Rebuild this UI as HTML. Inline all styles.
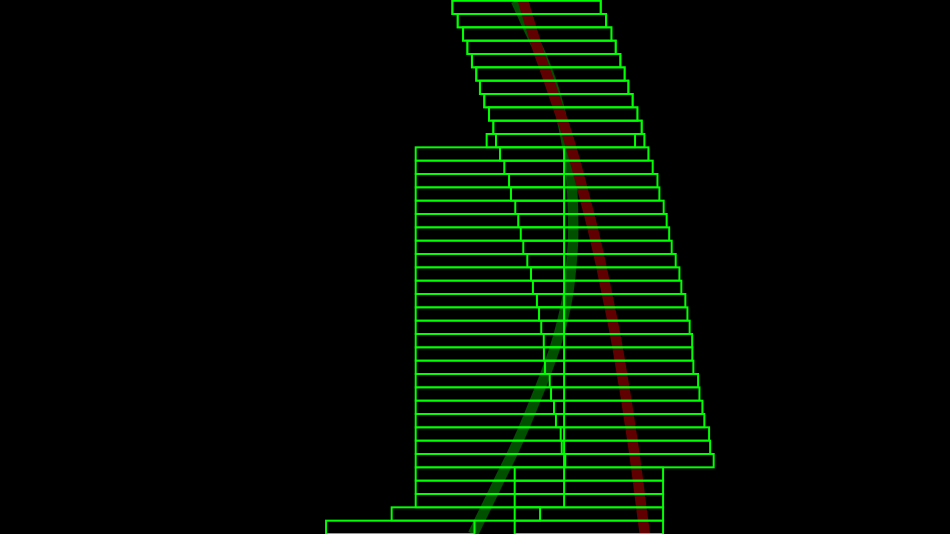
<!DOCTYPE html>
<html lang="en">
<head>
<meta charset="utf-8">
<title>Moving bars chart</title>
<style>
  html, body { margin: 0; padding: 0; background: #000; }
  body { width: 950px; height: 534px; overflow: hidden; }
  svg { display: block; }
  .bar { fill: none; stroke: #00ff00; stroke-width: 2; }
  .curve { fill: none; stroke-width: 10.5; }
</style>
</head>
<body>
<svg id="chart" width="950" height="534" viewBox="0 0 950 534" xmlns="http://www.w3.org/2000/svg"></svg>
<script>
const barLength = 100;
const barAStart = [
  24.7, 28.3, 31.9, 34.8, 37.9, 40.8, 43.3, 46.2, 49.4, 52.3,
  47.8, 0, 0, 0, 0, 0, 0, 0, 0, 0,
  0, 0, 0, 0, 0, 0, 0, 0, 0, 0,
  0, 0, 0, 0, 0, 0, 0, 0, -16.2, -60.4
];
const barBStart = [
  24.7, 28.3, 31.9, 34.8, 37.9, 40.8, 43.3, 46.2, 49.4, 52.3,
  54.1, 56.8, 59.7, 62.9, 64.2, 67.1, 69.1, 70.8, 72.5, 75.2,
  77.7, 79.0, 81.7, 83.1, 84.6, 86.3, 86.4, 87.1, 90.3, 91.2,
  93.2, 94.5, 97.7, 98.4, 100.8, 66.7, 66.7, 66.7, 66.7, 66.7
];
const curveRows = [0, 2, 4, 6, 8, 10, 12, 14, 16, 18, 20, 22, 24, 26, 28, 30, 32, 34, 36, 38, 40];
const greenCurve = [
  67.6, 75.7, 84.1, 91.2, 96.6, 100.6, 103.6, 105.3, 106, 106, 104.7,
  102.6, 98.9, 93.9, 87.5, 80.4, 73, 64.9, 56.1, 47.4, 38.6
];
const redCurve = [
  72.3, 77.7, 83.4, 89.8, 95.9, 102, 107.3, 112.1, 116.8, 121.2, 125.2,
  128.9, 132.6, 136, 139, 142, 144.7, 147.4, 149.8, 152, 154.4
];

const NS = 'http://www.w3.org/2000/svg';
const svg = document.getElementById('chart');
const rowCount = barAStart.length;
const rowStep = 533.33 / rowCount;
const xAxis = v => 415.7 + v * 1.484;
const yAxis = r => 0.67 + r * rowStep;

function drawBar(row, start, name) {
  const rect = document.createElementNS(NS, 'rect');
  rect.setAttribute('class', 'bar');
  rect.setAttribute('x', xAxis(start));
  rect.setAttribute('y', yAxis(row));
  rect.setAttribute('width', xAxis(start + barLength) - xAxis(start));
  rect.setAttribute('height', rowStep);
  
  
  svg.appendChild(rect);
}

function curvePath(values) {
  const pts = values.map((v, i) => [xAxis(v), yAxis(curveRows[i])]);
  let d = 'M' + pts[0][0] + ' ' + pts[0][1];
  for (let i = 0; i < pts.length - 1; i++) {
    const p0 = pts[Math.max(i - 1, 0)];
    const p1 = pts[i];
    const p2 = pts[i + 1];
    const p3 = pts[Math.min(i + 2, pts.length - 1)];
    const c1x = p1[0] + (p2[0] - p0[0]) / 6;
    const c1y = p1[1] + (p2[1] - p0[1]) / 6;
    const c2x = p2[0] - (p3[0] - p1[0]) / 6;
    const c2y = p2[1] - (p3[1] - p1[1]) / 6;
    d += ' C' + c1x + ' ' + c1y + ' ' + c2x + ' ' + c2y + ' ' + p2[0] + ' ' + p2[1];
  }
  return d;
}

function drawCurve(values, color, name) {
  const path = document.createElementNS(NS, 'path');
  path.setAttribute('class', 'curve');
  path.setAttribute('d', curvePath(values));
  path.setAttribute('stroke', color);
  
  
  svg.appendChild(path);
}

drawCurve(greenCurve, '#005000', 'green-curve');
drawCurve(redCurve, '#600000', 'red-curve');
for (let r = 0; r < rowCount; r++) {
  drawBar(r, barAStart[r], 'bar-a-row-' + r);
  drawBar(r, barBStart[r], 'bar-b-row-' + r);
}
</script>
</body>
</html>
